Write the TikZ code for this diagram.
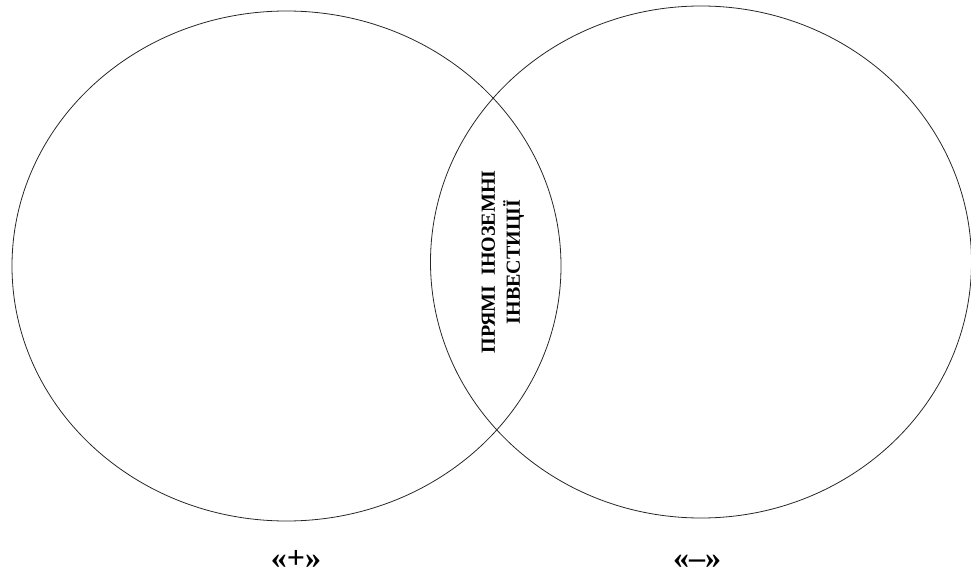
\documentclass[tikz,border=0pt]{standalone}
\usepackage{fontspec}
\setmainfont{Liberation Serif}
\begin{document}
\begin{tikzpicture}[x=1pt,y=-1pt,
  ring/.style={draw=black!85,line width=0.8pt},
  vlabel/.style={font=\bfseries\fontsize{20}{25}\selectfont,align=center,rotate=90,inner sep=0pt},
  sign/.style={font=\bfseries\fontsize{32}{36}\selectfont,inner sep=0pt,text height=16pt,text depth=0pt}]
\useasboundingbox (0,0) rectangle (971,577);
\draw[ring] (286.5,266) ellipse [x radius=274.5pt, y radius=255pt];
\draw[ring] (701,262) ellipse [x radius=270.5pt, y radius=256pt];
\node[vlabel] (fdi) at (503,262) {ПРЯМІ\ \ ІНОЗЕМНІ\\ІНВЕСТИЦІЇ};
\node[sign] (plus) at (296,560) {«+»};
\node[sign] (minus) at (697,560) {«–»};
\end{tikzpicture}
\end{document}
